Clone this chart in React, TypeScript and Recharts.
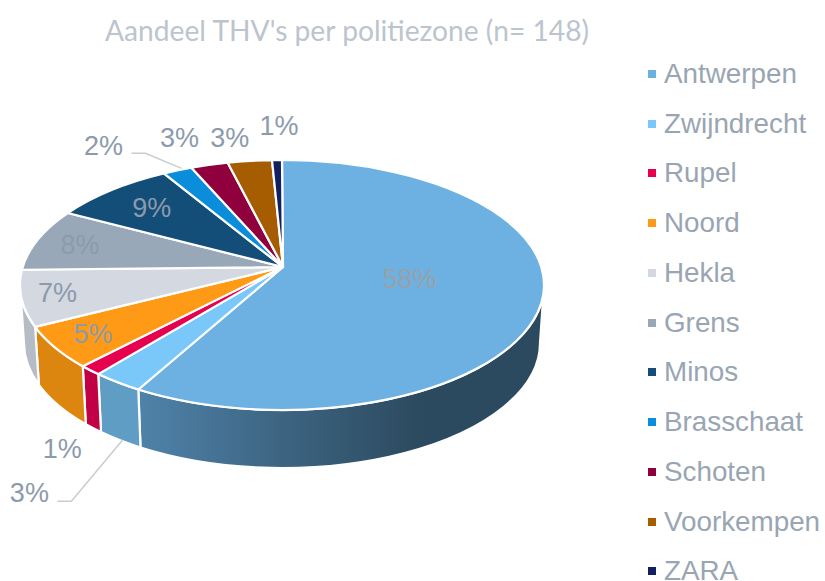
import { PieChart, Pie, Legend } from "recharts";

const names = ["Antwerpen", "Zwijndrecht", "Rupel", "Noord", "Hekla", "Grens", "Minos", "Brasschaat", "Schoten", "Voorkempen", "ZARA"];
// labels show them rounded
const values = [57.8, 2.7, 1.2, 5.2, 7.0, 8.1, 8.9, 2.2, 2.8, 3.35, 0.75];
const topColors = ["#6cb1e1", "#7ac8f9", "#e6004e", "#ff9a16", "#d3d8e1", "#98a8b8", "#124e78", "#0a8ddb", "#90003c", "#a65c00", "#13205f"];
const wallColors = ["url(#wallBlue)", "#5f9dc5", "#c20045", "#dd860f", "#b5bcc6", "#7f8d9b", "#0e3d5e", "#0870ae", "#720030", "#844900", "#0f194b"];

// label offset from the slice's point on the rim
const labelOffsets = [[-134, -13], [-88, 111], [-28, 79], [38, -13], [36, -5], [42, 6], [40, 18], [-74, -24], [-30, -27], [-20, -23], [2, -34]];
const leaders: Record<number, number[][]> = {
  1: [[5, 58], [-46, 119], [-60, 119]],
  7: [[4, -2], [-32, -17], [-46, -17]],
};

const data = names.map((name, i) => ({ name, value: values[i], fill: topColors[i], wall: wallColors[i] }));

const APEX_X = 283;
const APEX_Y = 267;
const RIM_X = 282;
const RIM_Y = 285;
const RIM_RX = 262;
const RIM_RY = 125;
const BASE_Y = 343;
const BASE_RX = 258;
const BASE_RY = 125;
const rad = Math.PI / 180;

// pie angle (degrees) to the tilted ellipse parameter, the apex sits above the ellipse centre
const tilt = (angle: number) => {
  const a = 90 - angle;
  return a - 11 * Math.sin(a * rad);
};
const onRim = (t: number) => [RIM_X + RIM_RX * Math.sin(t * rad), RIM_Y - RIM_RY * Math.cos(t * rad)];
const onBase = (t: number) => [RIM_X + BASE_RX * Math.sin(t * rad), BASE_Y - BASE_RY * Math.cos(t * rad)];

function TopSlice(props: any) {
  const t0 = tilt(props.startAngle);
  const t1 = tilt(props.endAngle);
  const [x0, y0] = onRim(t0);
  const [x1, y1] = onRim(t1);
  const large = t1 - t0 > 180 ? 1 : 0;
  const d = `M${APEX_X},${APEX_Y}L${x0},${y0}A${RIM_RX},${RIM_RY} 0 ${large} 1 ${x1},${y1}Z`;
  return <path d={d} fill={props.payload?.fill ?? props.fill} stroke="#fff" strokeWidth={2.2} strokeLinejoin="round" />;
}

function WallSlice(props: any) {
  const t0 = Math.max(tilt(props.startAngle), 90);
  const t1 = Math.min(tilt(props.endAngle), 270);
  if (t1 <= t0) return <g />;
  const [x0, y0] = onRim(t0);
  const [x1, y1] = onRim(t1);
  const [bx0, by0] = onBase(t0);
  const [bx1, by1] = onBase(t1);
  const d = `M${x0},${y0}A${RIM_RX},${RIM_RY} 0 0 1 ${x1},${y1}L${bx1},${by1}A${BASE_RX},${BASE_RY} 0 0 0 ${bx0},${by0}Z`;
  return (
    <g>
      <defs>
        <linearGradient id="wallBlue" gradientUnits="userSpaceOnUse" x1="140" y1="0" x2="420" y2="0">
          <stop offset="0" stopColor="#4f82a9" />
          <stop offset="0.55" stopColor="#3b627e" />
          <stop offset="1" stopColor="#2c4a5f" />
        </linearGradient>
      </defs>
      <path d={d} fill={props.payload?.wall ?? props.wall} stroke="#fff" strokeWidth={2.2} />
    </g>
  );
}

function SliceLabel(props: any) {
  const { index, value, startAngle, endAngle } = props;
  const [x, y] = onRim(tilt((startAngle + endAngle) / 2));
  const [dx, dy] = labelOffsets[index];
  const line = leaders[index];
  return (
    <g>
      {line && (
        <polyline
          points={line.map(([lx, ly]) => `${x + lx},${y + ly}`).join(" ")}
          fill="none"
          stroke="#c8cdd3"
          strokeWidth={1.5}
        />
      )}
      <text
        x={x + dx}
        y={y + dy}
        textAnchor="middle"
        dominantBaseline="central"
        fontFamily="'Liberation Sans', Arial, sans-serif"
        fontSize={27}
        fill={index === 0 ? "#98a1aa" : "#8c9aac"}
      >
        {Math.round(value)}%
      </text>
    </g>
  );
}

function LegendList({ payload }: any) {
  const seen = new Set<string>();
  const items = (payload ?? []).filter((entry: any) => {
    if (entry.type === "none" || seen.has(entry.value)) return false;
    seen.add(entry.value);
    return true;
  });
  return (
    <div style={{ fontFamily: "'Liberation Sans', Arial, sans-serif", fontSize: 27.8, lineHeight: "20px", color: "#99a5b2" }}>
      {items.map((entry: any) => (
        <div key={entry.value} style={{ height: 49.75, display: "flex", alignItems: "center" }}>
          <span style={{ width: 8, height: 8, background: entry.color, marginRight: 8, flex: "none" }} />
          <span style={{ whiteSpace: "nowrap" }}>{entry.value}</span>
        </div>
      ))}
    </div>
  );
}

export default function App() {
  return (
    <div style={{ position: "absolute", left: 0, top: 0, width: 825, height: 581, overflow: "hidden", background: "#fff" }}>
      <div
        style={{
          position: "absolute",
          left: 105,
          top: 14,
          fontFamily: "Lato, sans-serif",
          fontSize: 28.2,
          lineHeight: "32px",
          color: "#bcc4cd",
          whiteSpace: "nowrap",
        }}
      >
        Aandeel THV's per politiezone (n= 148)
      </div>
      <PieChart width={825} height={581} margin={{ top: 0, right: 0, bottom: 0, left: 0 }}>
        <Pie
          data={data}
          dataKey="value"
          nameKey="name"
          cx={APEX_X}
          cy={APEX_Y}
          outerRadius={RIM_RX}
          startAngle={90}
          endAngle={-270}
          shape={WallSlice}
          legendType="none"
          isAnimationActive={false}
        />
        <Pie
          data={data}
          dataKey="value"
          nameKey="name"
          cx={APEX_X}
          cy={APEX_Y}
          outerRadius={RIM_RX}
          startAngle={90}
          endAngle={-270}
          shape={TopSlice}
          label={SliceLabel}
          labelLine={false}
          isAnimationActive={false}
        />
        <Legend
          layout="vertical"
          align="right"
          verticalAlign="top"
          content={LegendList}
          itemSorter={null}
          wrapperStyle={{ left: 648, top: 49, width: 177, right: "auto" }}
        />
      </PieChart>
    </div>
  );
}
